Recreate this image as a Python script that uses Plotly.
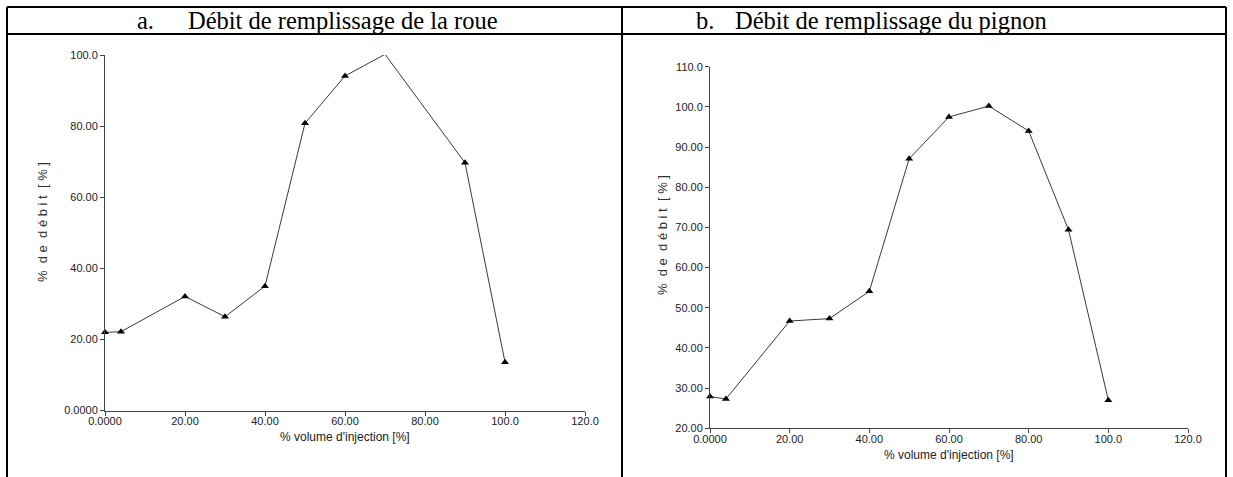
import plotly.graph_objects as go

W, H = 1233, 477

# ---- data ----
x_roue = [0, 4, 20, 30, 40, 50, 60, 70, 90, 100]
y_roue = [22.0, 22.2, 32.1, 26.4, 35.0, 80.8, 94.1, 100.2, 69.7, 13.6]

x_pignon = [0, 4, 20, 30, 40, 50, 60, 70, 80, 90, 100]
y_pignon = [27.9, 27.3, 46.7, 47.3, 54.1, 87.1, 97.5, 100.2, 94.0, 69.4, 27.0]

x_tickvals = [0, 20, 40, 60, 80, 100, 120]
x_ticktext = ["0.0000", "20.00", "40.00", "60.00", "80.00", "100.0", "120.0"]
y1_tickvals = [0, 20, 40, 60, 80, 100]
y1_ticktext = ["0.0000", "20.00", "40.00", "60.00", "80.00", "100.0"]
y2_tickvals = [20, 30, 40, 50, 60, 70, 80, 90, 100, 110]
y2_ticktext = ["20.00", "30.00", "40.00", "50.00", "60.00", "70.00", "80.00", "90.00", "100.0", "110.0"]

title_a = "Débit de remplissage de la roue"
title_b = "Débit de remplissage du pignon"
x_title = "% volume d'injection [%]"
y_title = "%\u00a0\u00a0d\u00a0e\u00a0\u00a0d\u00a0é\u00a0b\u00a0i\u00a0t\u00a0\u00a0[\u00a0%\u00a0]"

def px(x):
    return x / W

def py(y):
    return 1 - y / H

line_style = dict(color="#3a3a3a", width=1)
marker_style = dict(symbol="triangle-up", size=7, color="black")

fig = go.Figure()
fig.add_trace(go.Scatter(x=x_roue, y=y_roue, mode="lines+markers", line=line_style,
                         marker=marker_style, xaxis="x", yaxis="y", cliponaxis=False,
                         showlegend=False, hoverinfo="skip"))
fig.add_trace(go.Scatter(x=x_pignon, y=y_pignon, mode="lines+markers", line=line_style,
                         marker=marker_style, xaxis="x2", yaxis="y2", cliponaxis=False,
                         showlegend=False, hoverinfo="skip"))

tick_font = dict(family="Liberation Sans, Arial, sans-serif", size=11, color="#222")
axis_common = dict(showgrid=False, zeroline=False, showline=True, linecolor="#444",
                   linewidth=1, ticks="outside", ticklen=4, tickcolor="#444",
                   tickwidth=1, tickfont=tick_font, tickmode="array", automargin=False)

fig.update_layout(
    template="none",
    width=W, height=H,
    margin=dict(l=0, r=0, t=0, b=0, pad=0, autoexpand=False),
    paper_bgcolor="white", plot_bgcolor="white",
    xaxis=dict(domain=[px(105), px(585)], range=[0, 120], anchor="y",
               tickvals=x_tickvals, ticktext=x_ticktext, ticklabelstandoff=-4, **axis_common),
    yaxis=dict(domain=[py(410.6), py(55)], range=[0, 100], anchor="x",
               tickvals=y1_tickvals, ticktext=y1_ticktext, **axis_common),
    xaxis2=dict(domain=[px(710), px(1188)], range=[0, 120], anchor="y2",
                tickvals=x_tickvals, ticktext=x_ticktext, ticklabelstandoff=-4, **axis_common),
    yaxis2=dict(domain=[py(428.3), py(66.7)], range=[20, 110], anchor="x2",
                tickvals=y2_tickvals, ticktext=y2_ticktext, **axis_common),
)

# table borders
border = dict(color="black", width=2)
shapes = [
    dict(type="line", xref="paper", yref="paper", x0=px(7), x1=px(1226), y0=py(7), y1=py(7), line=border),
    dict(type="line", xref="paper", yref="paper", x0=px(7), x1=px(1226), y0=py(34), y1=py(34), line=border),
    dict(type="line", xref="paper", yref="paper", x0=px(7), x1=px(7), y0=py(7), y1=py(477), line=border),
    dict(type="line", xref="paper", yref="paper", x0=px(622), x1=px(622), y0=py(7), y1=py(477), line=border),
    dict(type="line", xref="paper", yref="paper", x0=px(1226), x1=px(1226), y0=py(7), y1=py(477), line=border),
]
fig.update_layout(shapes=shapes)

head_font = dict(family="Liberation Serif, Times New Roman, serif", size=24.5, color="black")
lab_font = dict(family="Liberation Sans, Arial, sans-serif", size=12, color="#222")
ytl_font = dict(family="Liberation Sans, Arial, sans-serif", size=13, color="#333")

annotations = [
    dict(text="a.", x=px(135), y=py(21), xref="paper", yref="paper", xanchor="left", yanchor="middle",
         showarrow=False, font=head_font),
    dict(text=title_a, x=px(186), y=py(21), xref="paper", yref="paper", xanchor="left", yanchor="middle",
         showarrow=False, font=head_font),
    dict(text="b.", x=px(694), y=py(21), xref="paper", yref="paper", xanchor="left", yanchor="middle",
         showarrow=False, font=head_font),
    dict(text=title_b, x=px(733), y=py(21), xref="paper", yref="paper", xanchor="left", yanchor="middle",
         showarrow=False, font=head_font),
    dict(text=x_title, x=px(345), y=py(437), xref="paper", yref="paper", xanchor="center", yanchor="middle",
         showarrow=False, font=lab_font),
    dict(text=x_title, x=px(949), y=py(455), xref="paper", yref="paper", xanchor="center", yanchor="middle",
         showarrow=False, font=lab_font),
    dict(text=y_title, x=px(42), y=py(222), xref="paper", yref="paper", xanchor="center", yanchor="middle",
         textangle=-90, showarrow=False, font=ytl_font),
    dict(text=y_title, x=px(662), y=py(235), xref="paper", yref="paper", xanchor="center", yanchor="middle",
         textangle=-90, showarrow=False, font=ytl_font),
]
fig.update_layout(annotations=annotations, hovermode=False)

fig.write_html(
    "out.html",
    config={"displayModeBar": False, "staticPlot": True},
    post_script="document.body.style.margin='0';document.body.style.padding='0';document.body.style.overflow='hidden';",
)
